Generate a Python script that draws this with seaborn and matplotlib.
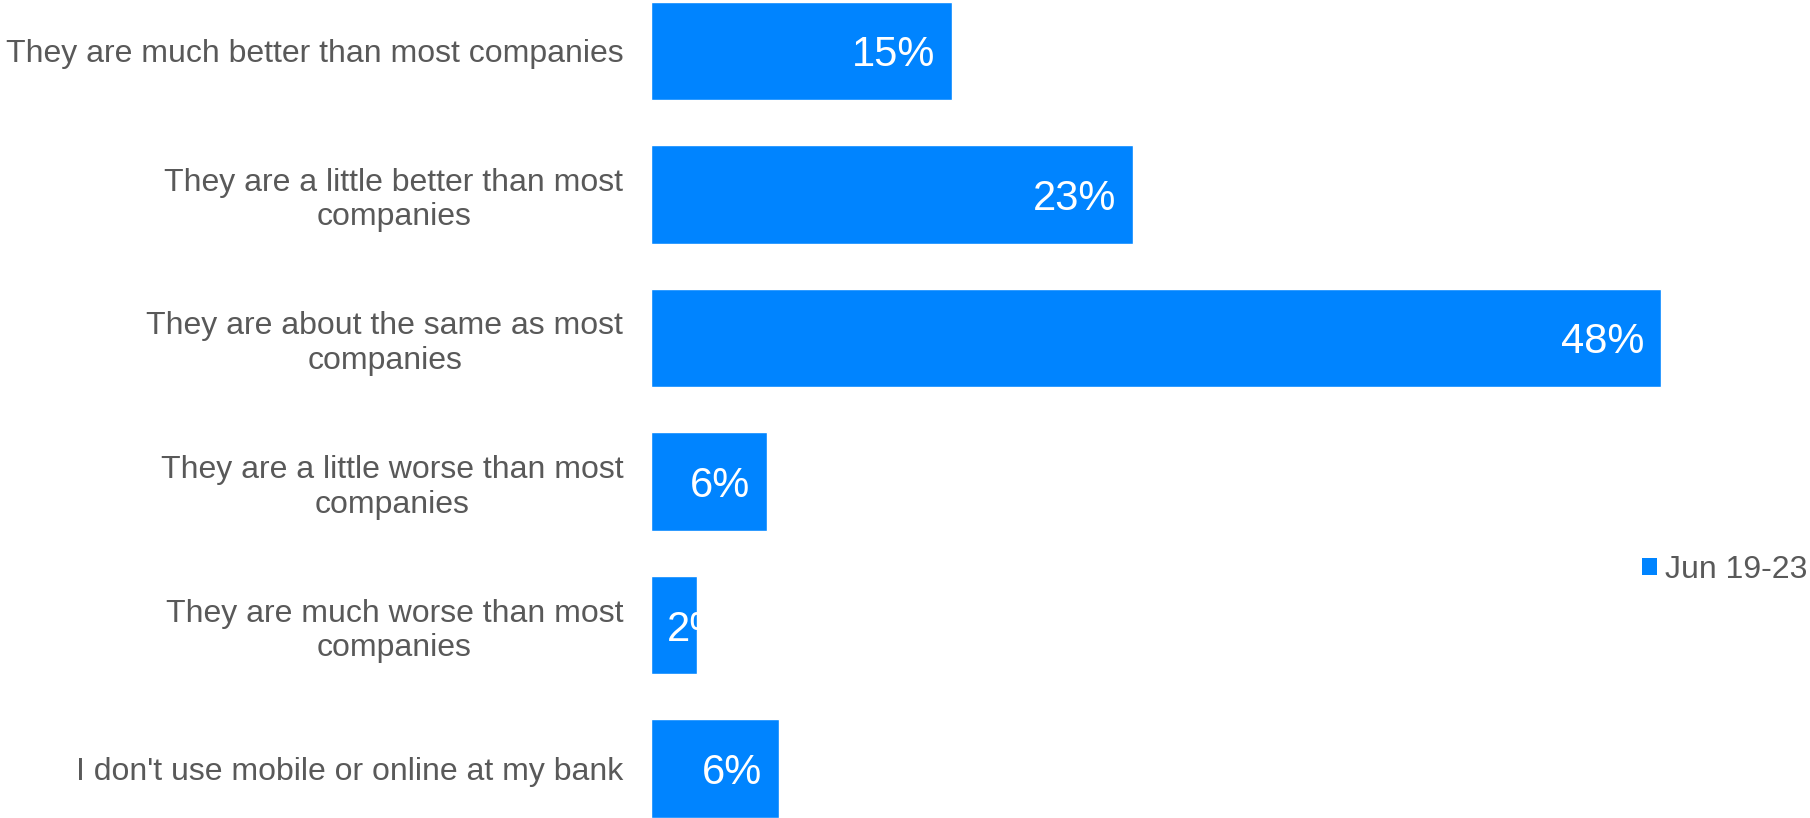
import matplotlib
matplotlib.use("Agg")
import matplotlib.pyplot as plt
import seaborn as sns
import pandas as pd
from matplotlib.patches import Patch

# Data
categories = [
    "They are much better than most companies",
    "They are a little better than most\ncompanies",
    "They are about the same as most\ncompanies",
    "They are a little worse than most\ncompanies",
    "They are much worse than most\ncompanies",
    "I don't use mobile or online at my bank",
]
values = [14.3, 22.9, 48.0, 5.5, 2.2, 6.1]
labels = ["15%", "23%", "48%", "6%", "2%", "6%"]
series_name = "Jun 19-23"

bar_color = "#0084FF"
text_color = "#595959"

sns.set_theme(style="white")
plt.rcParams["font.family"] = ["Liberation Sans", "DejaVu Sans"]

df = pd.DataFrame({"category": categories, "value": values})

fig = plt.figure(figsize=(18.10, 8.18), dpi=100)
ax = fig.add_axes([651 / 1810, 0.0, (1700 - 651) / 1810, 816.5 / 818])

sns.barplot(data=df, x="value", y="category", orient="h", color=bar_color,
            saturation=1, width=0.686, ax=ax)

ax.set_xlim(0, (1700 - 651) / 21.04)
ax.set_ylim(len(categories) - 1 + 0.343, -0.343)
ax.set_xlabel("")
ax.set_ylabel("")
ax.set_xticks([])
sns.despine(ax=ax, left=True, bottom=True)
ax.tick_params(axis="y", length=0, pad=20, labelsize=23, labelcolor=text_color)
for t in ax.get_yticklabels():
    t.set_multialignment("center")
    t.set_linespacing(1.2)

# value labels inside bars, clipped to the bar
for bar, v, lab in zip(ax.patches, values, labels):
    yc = bar.get_y() + bar.get_height() / 2
    if v < 4:
        txt = ax.text(0.76, yc, lab, ha="left", va="center_baseline",
                      color="white", fontsize=30)
    else:
        txt = ax.text(v - 0.81, yc, lab, ha="right", va="center_baseline",
                      color="white", fontsize=30)
    txt.set_clip_path(bar)

handle = Patch(facecolor=bar_color, edgecolor="none")
fig.legend([handle], [series_name], loc="center right",
           bbox_to_anchor=(1807 / 1810, 1 - 570 / 818), frameon=False,
           fontsize=23, labelcolor=text_color, handlelength=0.45, handleheight=0.45,
           handletextpad=0.25, borderpad=0, borderaxespad=0)

fig.savefig("out.png", dpi=100)
